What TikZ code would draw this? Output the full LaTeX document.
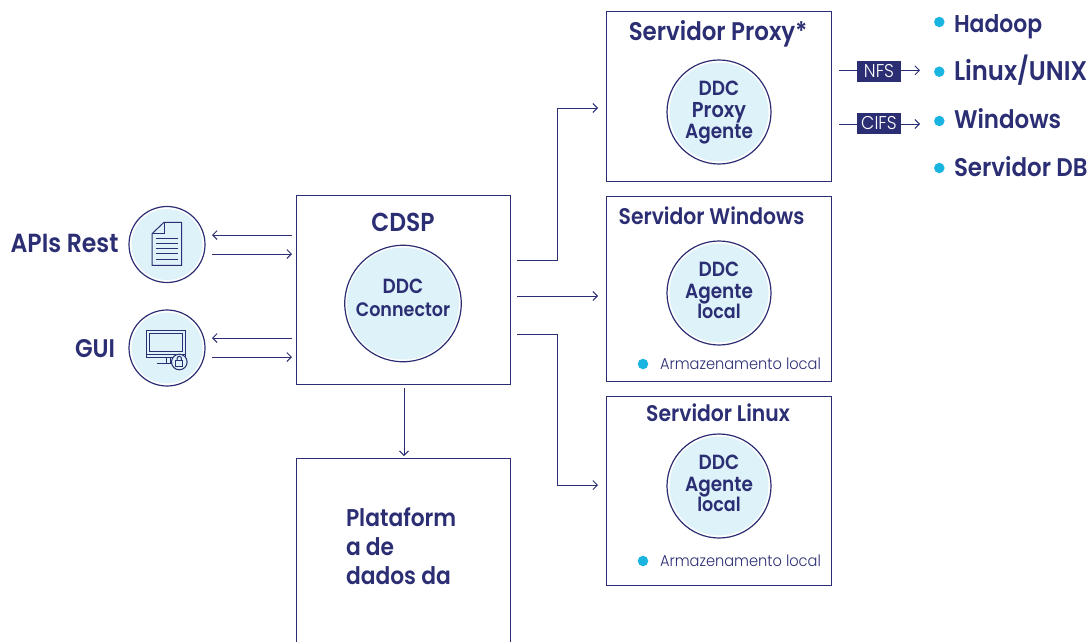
\documentclass[tikz,border=0pt]{standalone}
\usepackage{fontspec}
\setmainfont{Poppins SemiBold}[FakeStretch=0.9]
\newfontfamily\lightf{Poppins Light}[FakeStretch=0.93]
\usetikzlibrary{arrows.meta}
\definecolor{navy}{HTML}{2B2E73}
\definecolor{pale}{HTML}{DDF2F9}
\definecolor{cyanb}{HTML}{1AB4E0}
\tikzset{
  x=1pt,y=1pt,
  boxn/.style={draw=navy,line width=1pt,fill=white,outer sep=0pt,inner sep=0pt},
  ringn/.style={circle,draw=navy,line width=1.2pt,fill=white,inner sep=0pt,outer sep=0pt,align=center,text=navy,
    path picture={\fill[pale] (path picture bounding box.center) circle (#1);}},
  arr/.style={draw=navy,line width=0.9pt,-{Straight Barb[length=4.5pt,width=9pt,line width=0.9pt]}},
  lab/.style={text=navy,inner sep=0pt,outer sep=0pt,anchor=base},
  tag/.style={fill=navy,text=white,inner sep=0pt,outer sep=0pt,minimum width=44pt,font=\lightf\fontsize{18.5}{18.5}\selectfont},
  dot/.style={circle,fill=cyanb,minimum size=10.5pt,inner sep=0pt,outer sep=0pt},
  icon/.style={draw=navy,line width=1pt},
}
\newcommand{\tfont}[1]{\fontsize{#1}{#1}\selectfont}
\begin{document}
\begin{tikzpicture}
\useasboundingbox (0,0) rectangle (1091,-641);
\clip (0,0) rectangle (1091,-641);
% boxes
\node[boxn,minimum width=214pt,minimum height=189pt] (cdsp) at (403,-289.5) {};
\node[boxn,minimum width=214pt,minimum height=195pt] (plat) at (403,-555.5) {};
\node[boxn,minimum width=224.6pt,minimum height=169.5pt] (proxy) at (719,-96.5) {};
\node[boxn,minimum width=224.6pt,minimum height=184.5pt] (win) at (719,-289) {};
\node[boxn,minimum width=224.6pt,minimum height=188.5pt] (lin) at (719,-491) {};
% circles
\node[ringn=56pt,minimum size=116.5pt] (cc) at (403,-303.5) {};
\node[ringn=49.5pt,minimum size=104pt] (cp) at (719,-112) {};
\node[ringn=49.5pt,minimum size=104pt] (cw) at (719,-293) {};
\node[ringn=49.5pt,minimum size=104pt] (cl) at (719,-486) {};
\node[ringn=35.5pt,minimum size=76pt] (api) at (167,-244.5) {};
\node[ringn=35.5pt,minimum size=76pt] (gui) at (167,-348) {};
% box titles
\node[lab,font=\tfont{26}] (tcdsp) at (403,-231) {CDSP};
\node[lab,font=\tfont{25.5}] (tproxy) at (718,-40) {Servidor Proxy*};
\node[lab,font=\tfont{22.6}] (twin) at (711.5,-224) {Servidor Windows};
\node[lab,font=\tfont{22.6}] (tlin) at (718,-421) {Servidor Linux};
\node[lab,font=\tfont{26.2}] (tapi) at (64.5,-252) {APIs Rest};
\node[lab,font=\tfont{25.5}] (tgui) at (95,-357) {GUI};
\node[lab,font=\tfont{24.2},anchor=base west,align=left] (tplat1) at (346,-526) {Plataform};
\node[lab,font=\tfont{24.2},anchor=base west] (tplat2) at (346,-555) {a de};
\node[lab,font=\tfont{24.2},anchor=base west] (tplat3) at (346,-584) {dados da};
% circle labels
\node[lab,font=\tfont{20.5}] (c1) at (403,-293) {DDC};
\node[lab,font=\tfont{19.5}] (c2) at (403,-316) {Connector};
\node[lab,font=\tfont{20.5}] (p1) at (719,-95) {DDC};
\node[lab,font=\tfont{21.5}] (p2) at (719,-117) {Proxy};
\node[lab,font=\tfont{20.5}] (p3) at (719,-138) {Agente};
\node[lab,font=\tfont{20.5}] (w1) at (719,-276) {DDC};
\node[lab,font=\tfont{20.5}] (w2) at (719,-298) {Agente};
\node[lab,font=\tfont{19.5}] (w3) at (719,-318) {local};
\node[lab,font=\tfont{20.5}] (l1) at (719,-469) {DDC};
\node[lab,font=\tfont{20.5}] (l2) at (719,-491) {Agente};
\node[lab,font=\tfont{19.5}] (l3) at (719,-511) {local};
% local storage
\node[dot] (dw) at (643,-364) {};
\node[dot] (dl) at (643,-561) {};
\node[lab,font=\lightf\tfont{15.7},anchor=base west] (sw) at (660,-369) {Armazenamento local};
\node[lab,font=\lightf\tfont{15.7},anchor=base west] (sl) at (660,-566) {Armazenamento local};
% right list
\node[dot] (d1) at (939.3,-22) {};
\node[dot] (d2) at (939.3,-71.7) {};
\node[dot] (d3) at (939.3,-121) {};
\node[dot] (d4) at (939.3,-168) {};
\node[lab,font=\tfont{24.3},anchor=base west] (h1) at (954,-32) {Hadoop};
\node[lab,font=\tfont{27},anchor=base west] (h2) at (954,-80) {Linux/UNIX};
\node[lab,font=\tfont{25.5},anchor=base west] (h3) at (954,-128) {Windows};
\node[lab,font=\tfont{25.5},anchor=base west] (h4) at (954,-176) {Servidor DB};
% connector end points
\coordinate (a1) at (292,-235); \coordinate (a2) at (212,-235);
\coordinate (a3) at (212,-254); \coordinate (a4) at (292,-254);
\coordinate (g1) at (292,-338); \coordinate (g2) at (212,-338);
\coordinate (g3) at (212,-357); \coordinate (g4) at (292,-357);
\coordinate (s1) at (517,-260); \coordinate (e1) at (598,-108);
\coordinate (s2) at (517,-296); \coordinate (e2) at (598,-296);
\coordinate (s3) at (517,-334); \coordinate (e3) at (598,-485);
\coordinate (s4) at (404,-388); \coordinate (e4) at (404,-456);
\coordinate (n1) at (839,-70.3); \coordinate (n2) at (920,-70.3);
\coordinate (f1) at (839,-124); \coordinate (f2) at (920,-124);
% connectors
\draw[arr] (a1) -- (a2);
\draw[arr] (a3) -- (a4);
\draw[arr] (g1) -- (g2);
\draw[arr] (g3) -- (g4);
\draw[arr] (s1) -- (557,-260) -- (557,-108) -- (e1);
\draw[arr] (s2) -- (e2);
\draw[arr] (s3) -- (557,-334) -- (557,-485) -- (e3);
\draw[arr] (s4) -- (e4);
\draw[arr] (n1) -- (n2);
\draw[arr] (f1) -- (f2);
\node[tag,minimum height=20.7pt] (nfs) at (879,-71.3) {NFS};
\node[tag,minimum height=21pt] (cifs) at (879,-123.5) {CIFS};
% document icon
\draw[icon,line join=miter] (164,-222.3) -- (181.7,-222.3) -- (181.7,-265.3) -- (152,-265.3) -- (152,-233.7) -- cycle;
\draw[icon] (152,-233.7) -- (164,-233.7) -- (164,-222.3);
\foreach \yy in {238.7,243.7,248.7,253.7,259} \draw[icon] (156,-\yy) -- (177.7,-\yy);
% monitor icon
\draw[icon] (146.7,-330.7) rectangle (185.3,-357.7);
\draw[icon] (149.7,-333.3) rectangle (182.3,-351.7);
\draw[icon] (146.7,-354.5) -- (185.3,-354.5);
\draw[icon] (166,-357.7) -- (166,-363.5) (170,-357.7) -- (170,-363.5) (156.7,-363.7) -- (172,-363.7);
\draw[icon,fill=pale] (179.3,-362) circle (7.8);
\draw[icon] (175.9,-360) rectangle (182.7,-366);
\draw[icon] (177.2,-360) -- (177.2,-358.4) arc (180:0:2.1) -- (181.4,-360);
\end{tikzpicture}
\end{document}
